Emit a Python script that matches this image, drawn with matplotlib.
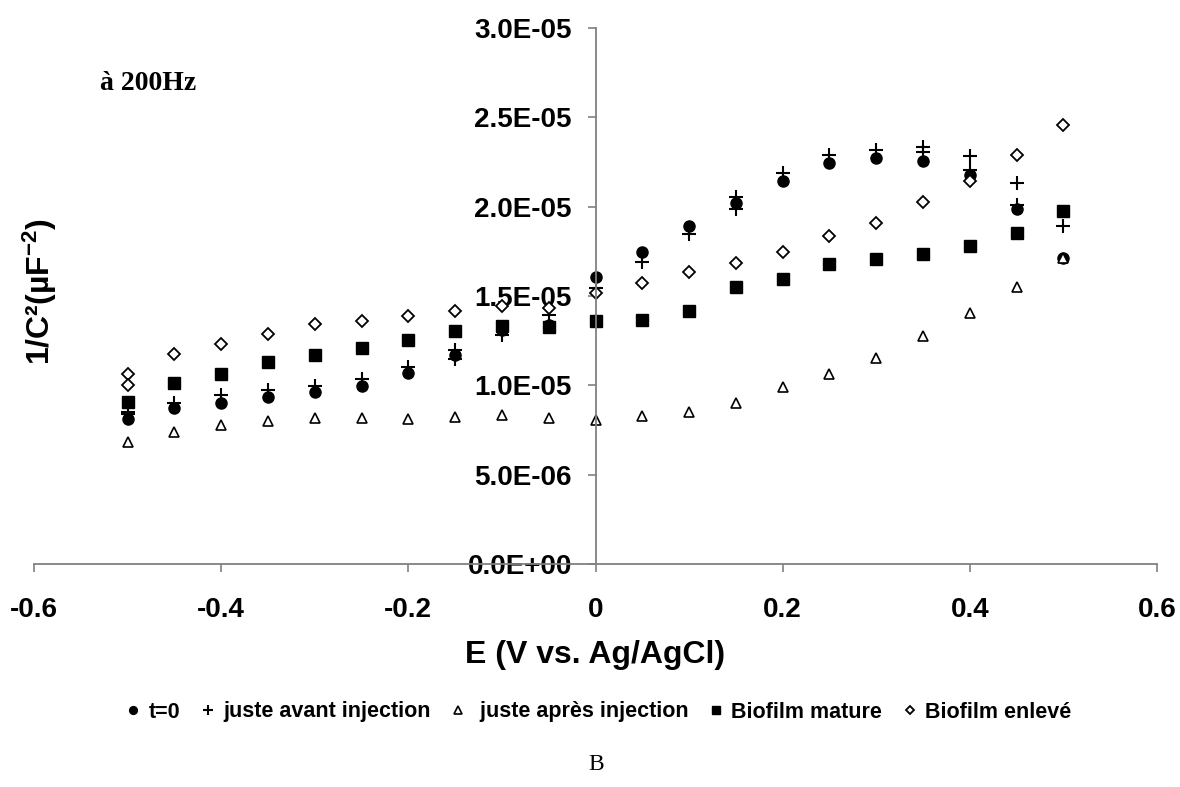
import matplotlib
matplotlib.use("Agg")
import matplotlib.pyplot as plt
from matplotlib.ticker import FuncFormatter, MultipleLocator

plt.rcParams["font.family"] = ["Liberation Sans", "DejaVu Sans"]
plt.rcParams["mathtext.fontset"] = "custom"
plt.rcParams["mathtext.rm"] = "Liberation Sans:bold"
plt.rcParams["mathtext.it"] = "Liberation Sans:bold"
plt.rcParams["mathtext.bf"] = "Liberation Sans:bold"

# Mott-Schottky data, 1/C^2 in µF^-2 (values x 1e-5)
e_t0 = [-0.5, -0.45, -0.4, -0.35, -0.3, -0.25, -0.2, -0.15, -0.1, -0.05, 0.0,
        0.05, 0.1, 0.15, 0.2, 0.25, 0.3, 0.35, 0.4, 0.45, 0.5]
c_t0 = [0.811, 0.871, 0.903, 0.936, 0.962, 0.998, 1.071, 1.170, 1.310, 1.340, 1.605,
        1.748, 1.892, 2.022, 2.144, 2.246, 2.271, 2.258, 2.178, 1.985, 1.711]

e_avant = [-0.5, -0.45, -0.4, -0.35, -0.3, -0.25, -0.2, -0.15, -0.1, -0.05, 0.0,
           0.05, 0.1, 0.15, 0.2, 0.25, 0.3, 0.35, 0.4, 0.45, 0.5,
           -0.5, -0.15, 0.15, 0.35, 0.4, 0.45]
c_avant = [0.852, 0.899, 0.946, 0.974, 0.998, 1.034, 1.104, 1.200, 1.282, 1.394, 1.543,
           1.689, 1.847, 1.985, 2.190, 2.289, 2.317, 2.336, 2.285, 2.131, 1.892,
           0.839, 1.150, 2.056, 2.308, 2.205, 2.010]

e_apres = [-0.5, -0.45, -0.4, -0.35, -0.3, -0.25, -0.2, -0.15, -0.1, -0.05, 0.0,
           0.05, 0.1, 0.15, 0.2, 0.25, 0.3, 0.35, 0.4, 0.45, 0.5]
c_apres = [0.681, 0.740, 0.778, 0.800, 0.815, 0.815, 0.810, 0.824, 0.834, 0.815, 0.806,
           0.828, 0.849, 0.903, 0.989, 1.063, 1.151, 1.276, 1.403, 1.552, 1.711]

e_mature = [-0.5, -0.45, -0.4, -0.35, -0.3, -0.25, -0.2, -0.15, -0.1, -0.05, 0.0,
            0.05, 0.1, 0.15, 0.2, 0.25, 0.3, 0.35, 0.4, 0.45, 0.5]
c_mature = [0.905, 1.011, 1.062, 1.130, 1.170, 1.207, 1.254, 1.306, 1.330, 1.325, 1.360,
            1.364, 1.418, 1.549, 1.594, 1.677, 1.705, 1.733, 1.782, 1.851, 1.976]

e_enleve = [-0.5, -0.5, -0.45, -0.4, -0.35, -0.3, -0.25, -0.2, -0.15, -0.1, -0.05, 0.0,
            0.05, 0.1, 0.15, 0.2, 0.25, 0.3, 0.35, 0.4, 0.45, 0.5]
c_enleve = [1.062, 1.002, 1.173, 1.230, 1.287, 1.342, 1.360, 1.388, 1.416, 1.444, 1.431, 1.515,
            1.574, 1.636, 1.683, 1.745, 1.836, 1.910, 2.025, 2.146, 2.290, 2.457]

series_labels = ["t=0", "juste avant injection", " juste après injection",
                 "Biofilm mature", "Biofilm enlevé"]
scale = 1e-5

fig = plt.figure(figsize=(11.8, 7.87), dpi=100)
ax = fig.add_axes([34 / 1180, 1 - 564 / 787, (1157 - 34) / 1180, (564 - 28) / 787])

def sc(vals):
    return [v * scale for v in vals]

ax.plot(e_t0, sc(c_t0), ls="none", marker="o", ms=8, mfc="black", mec="black",
        label=series_labels[0])
ax.plot(e_avant, sc(c_avant), ls="none", marker="+", ms=10, mew=1.5, color="black",
        label=series_labels[1])
ax.plot(e_apres, sc(c_apres), ls="none", marker="^", ms=7.5, mew=1.2, mfc="white",
        mec="black", label=series_labels[2])
ax.plot(e_mature, sc(c_mature), ls="none", marker="s", ms=8, mfc="black", mec="black",
        label=series_labels[3])
ax.plot(e_enleve, sc(c_enleve), ls="none", marker="D", ms=6.5, mew=1.3, mfc="white",
        mec="black", label=series_labels[4])

ax.set_xlim(-0.6, 0.6)
ax.set_ylim(0, 3.0e-5)
ax.xaxis.set_major_locator(MultipleLocator(0.2))
ax.yaxis.set_major_locator(MultipleLocator(5e-6))

ax.spines["top"].set_visible(False)
ax.spines["right"].set_visible(False)
ax.spines["left"].set_position(("data", 0))
for s in ("left", "bottom"):
    ax.spines[s].set_color("#808080")
    ax.spines[s].set_linewidth(1.3)

def xfmt(v, pos):
    if abs(v) < 1e-9:
        return "0"
    return f"{v:.1f}"

ax.xaxis.set_major_formatter(FuncFormatter(xfmt))
ax.yaxis.set_major_formatter(FuncFormatter(lambda v, pos: f"{v:.1E}"))
ax.tick_params(axis="both", direction="out", length=6, width=1.2, color="#808080",
               labelsize=20)
ax.tick_params(axis="y", pad=11)
ax.tick_params(axis="x", pad=18)
for lab in ax.get_xticklabels() + ax.get_yticklabels():
    lab.set_fontweight("bold")

ax.set_xlabel("E (V vs. Ag/AgCl)", fontsize=23, fontweight="bold", labelpad=12)
fig.text(40 / 1180, 1 - 292 / 787, "1/C²(µF$^{-2}$)", rotation=90, fontsize=23,
         fontweight="bold", ha="center", va="center")

fig.text(100 / 1180, 1 - 84 / 787, "à 200Hz", fontsize=20, fontweight="bold",
         family="Liberation Serif", ha="left", va="center")

leg = fig.legend(loc="center", bbox_to_anchor=(598 / 1180, 1 - 712 / 787), ncol=5,
                 frameon=False, markerscale=0.7, handlelength=0.8, handletextpad=0.3,
                 columnspacing=0.9, prop={"family": "Liberation Sans", "weight": "bold",
                                          "size": 15.5})

fig.text(596 / 1180, 1 - 765 / 787, "B", fontsize=17, family="Liberation Serif",
         ha="center", va="center")

fig.savefig("out.png", dpi=100)
